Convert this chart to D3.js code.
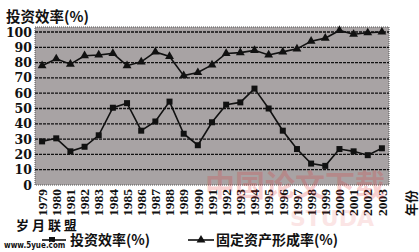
<!DOCTYPE html>
<html>
<head>
<meta charset="utf-8">
<script src="https://cdn.jsdelivr.net/npm/d3@7"></script>
<style>
  body { margin: 0; background: #fff; }
  svg { display: block; }
</style>
</head>
<body>
<svg></svg>
<script>
const width = 419;
const height = 252;

const years = ['1979','1980','1981','1982','1983','1984','1985','1986','1987','1988','1989','1990',
  '1991','1992','1993','1994','1995','1996','1997','1998','1999','2000','2001','2002','2003'];
// 投资效率(%)
const efficiency = [28.5, 30.5, 22, 25, 32.5, 50.5, 53.5, 35.5, 41.5, 54.5, 33.5, 26, 41, 52.5, 54, 63,
  50, 35.5, 23.5, 14, 12.5, 23.5, 22, 19.5, 24];
// 固定资产形成率(%)
const formation = [78, 82.5, 79, 84.5, 85, 86, 78, 80.5, 87, 84, 71.5, 73.5, 78.5, 86, 86.5, 88, 85,
  87, 89, 94, 96, 101, 98.5, 99.5, 100];
const yTicks = [0, 10, 20, 30, 40, 50, 60, 70, 80, 90, 100];

const plot = { left: 35, right: 389, top: 27, bottom: 185 };

const svg = d3.select('svg')
    .attr('width', width)
    .attr('height', height);

const x = d3.scaleBand()
    .domain(years)
    .range([plot.left, plot.right]);

const y = d3.scaleLinear()
    .domain([0, 100])
    .range([plot.bottom, 32]);

// plot background
svg.append('rect')
    .attr('x', plot.left)
    .attr('y', plot.top)
    .attr('width', plot.right - plot.left)
    .attr('height', plot.bottom - plot.top)
    .attr('fill', '#a8a3a4')
    .attr('stroke', '#555')
    .attr('stroke-dasharray', '1,1');

// gridlines
svg.append('g')
    .selectAll('line')
    .data(yTicks.slice(1))
    .enter().append('line')
    .attr('x1', plot.left)
    .attr('x2', plot.right)
    .attr('y1', d => y(d))
    .attr('y2', d => y(d))
    .attr('stroke', '#111')
    .attr('stroke-width', 1.3)
    .attr('stroke-dasharray', '3,1');

// y axis labels
const yAxis = svg.append('g')
    .attr('transform', `translate(${plot.left - 2},0)`)
    .call(d3.axisLeft(y).tickValues(yTicks).tickSize(0).tickPadding(1));
yAxis.select('.domain').remove();
yAxis.selectAll('text')
    .style('font-family', '"DejaVu Serif", serif')
    .style('font-weight', 'bold')
    .style('font-size', '12.5px')
    .attr('fill', '#111');

// x axis labels (rotated)
const xAxis = svg.append('g')
    .attr('transform', `translate(0,${plot.bottom})`)
    .call(d3.axisBottom(x).tickSize(0).tickPadding(0));
xAxis.select('.domain').remove();
xAxis.selectAll('text')
    .attr('transform', 'rotate(-90)')
    .attr('x', -4)
    .attr('y', 0)
    .attr('dy', '0.35em')
    .style('text-anchor', 'end')
    .style('font-family', '"Liberation Serif", serif')
    .style('font-weight', 'bold')
    .style('font-size', '13.5px')
    .attr('fill', '#111');

// lines
const line = d3.line()
    .x((d, i) => x(years[i]) + x.bandwidth() / 2)
    .y(d => y(d));

svg.append('path')
    .datum(formation)
    .attr('d', line)
    .attr('fill', 'none')
    .attr('stroke', '#111')
    .attr('stroke-width', 1.6);

svg.append('path')
    .datum(efficiency)
    .attr('d', line)
    .attr('fill', 'none')
    .attr('stroke', '#111')
    .attr('stroke-width', 1.6);

const tri = d3.symbol().type(d3.symbolTriangle).size(34);
const sq = d3.symbol().type(d3.symbolSquare).size(36);

svg.append('g')
    .selectAll('path')
    .data(formation)
    .enter().append('path')
    .attr('d', tri)
    .attr('transform', (d, i) => `translate(${x(years[i]) + x.bandwidth() / 2},${y(d)})`)
    .attr('fill', '#111');

svg.append('g')
    .selectAll('path')
    .data(efficiency)
    .enter().append('path')
    .attr('d', sq)
    .attr('transform', (d, i) => `translate(${x(years[i]) + x.bandwidth() / 2},${y(d)})`)
    .attr('fill', '#111');

const cjk = '"Noto Sans CJK SC", sans-serif';

// title
svg.append('text')
    .attr('x', 6)
    .attr('y', 22)
    .text('投资效率(%)')
    .style('font-family', cjk)
    .style('font-weight', 'bold')
    .style('font-size', '14.5px')
    .attr('fill', '#111');

// 年份
svg.append('text')
    .attr('transform', `translate(${plot.right + 22},190) rotate(-90)`)
    .attr('text-anchor', 'end')
    .attr('dy', '0.35em')
    .text('年份')
    .style('font-family', cjk)
    .style('font-weight', 'bold')
    .style('font-size', '13px')
    .attr('fill', '#111');

// red watermark
svg.append('text')
    .attr('x', 205)
    .attr('y', 196)
    .text('中国论文下载')
    .style('font-family', cjk)
    .style('font-weight', 'bold')
    .style('font-size', '30px')
    .attr('fill', '#e23030')
    .attr('opacity', 0.22);
svg.append('text')
    .attr('x', 290)
    .attr('y', 226)
    .text('STUDA')
    .style('font-family', '"DejaVu Sans", sans-serif')
    .style('font-weight', 'bold')
    .style('font-size', '22px')
    .attr('fill', '#e23030')
    .attr('opacity', 0.12);

// legend
const legend = svg.append('g');
const legendY = 240;

legend.append('line')
    .attr('x1', 42).attr('x2', 66)
    .attr('y1', legendY).attr('y2', legendY)
    .attr('stroke', '#111').attr('stroke-width', 1.6);
legend.append('path')
    .attr('d', sq)
    .attr('transform', `translate(52,${legendY})`)
    .attr('fill', '#111');
legend.append('text')
    .attr('x', 70)
    .attr('y', legendY)
    .attr('dy', '0.38em')
    .text('投资效率(%)')
    .style('font-family', cjk)
    .style('font-weight', 'bold')
    .style('font-size', '14px')
    .attr('fill', '#111');

legend.append('line')
    .attr('x1', 188).attr('x2', 214)
    .attr('y1', legendY).attr('y2', legendY)
    .attr('stroke', '#111').attr('stroke-width', 1.6);
legend.append('path')
    .attr('d', tri)
    .attr('transform', `translate(201,${legendY})`)
    .attr('fill', '#111');
legend.append('text')
    .attr('x', 216)
    .attr('y', legendY)
    .attr('dy', '0.38em')
    .text('固定资产形成率(%)')
    .style('font-family', cjk)
    .style('font-weight', 'bold')
    .style('font-size', '14px')
    .attr('fill', '#111');

// site watermark
svg.append('text')
    .attr('x', 16)
    .attr('y', 230)
    .text('岁 月 联 盟')
    .style('font-family', cjk)
    .style('font-weight', 'bold')
    .style('font-size', '13px')
    .attr('fill', '#111')
    .attr('stroke', '#fff')
    .attr('stroke-width', 2.5)
    .attr('paint-order', 'stroke');
svg.append('text')
    .attr('x', 4)
    .attr('y', 248)
    .text('www.5yue.com')
    .style('font-family', '"DejaVu Sans Condensed", "DejaVu Sans", sans-serif')
    .style('font-weight', 'bold')
    .style('font-size', '8px')
    .attr('fill', '#111')
    .attr('stroke', '#fff')
    .attr('stroke-width', 2.5)
    .attr('paint-order', 'stroke');
</script>
</body>
</html>
